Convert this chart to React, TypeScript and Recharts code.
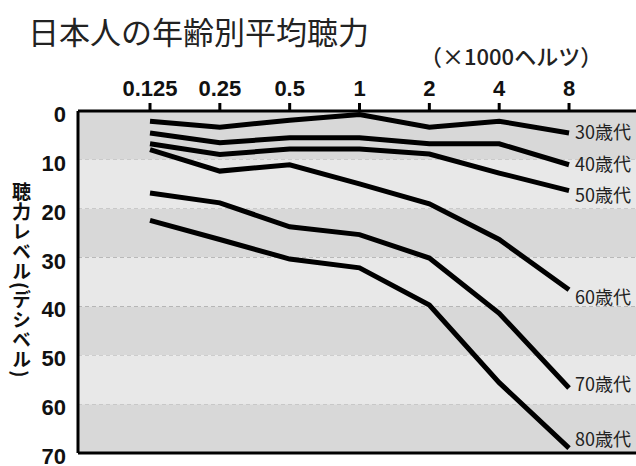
import React from 'react';
import { LineChart, Line, XAxis, YAxis, CartesianGrid, ReferenceArea, ReferenceLine } from 'recharts';

const freqLabels = ['0.125', '0.25', '0.5', '1', '2', '4', '8'];
const age30 = [2.1, 3.3, 1.9, 0.7, 3.3, 2.1, 4.5];
const age40 = [4.5, 6.5, 5.5, 5.5, 6.7, 6.7, 11.0];
const age50 = [6.7, 8.9, 7.8, 7.8, 8.8, 12.7, 16.3];
const age60 = [7.9, 12.3, 11.0, 14.9, 19.0, 26.3, 36.6];
const age70 = [16.8, 18.8, 23.7, 25.3, 30.1, 41.4, 56.7];
const age80 = [22.4, 26.3, 30.3, 32.1, 39.7, 55.6, 69.0];
const yTicks = [0, 10, 20, 30, 40, 50, 60, 70];
const seriesNames = ['30歳代', '40歳代', '50歳代', '60歳代', '70歳代', '80歳代'];

const data = freqLabels.map((f, i) => ({
  i,
  a30: age30[i],
  a40: age40[i],
  a50: age50[i],
  a60: age60[i],
  a70: age70[i],
  a80: age80[i],
}));

const series = [
  { key: 'a30', name: seriesNames[0], dy: -2 },
  { key: 'a40', name: seriesNames[1], dy: -2 },
  { key: 'a50', name: seriesNames[2], dy: 3 },
  { key: 'a60', name: seriesNames[3], dy: 6 },
  { key: 'a70', name: seriesNames[4], dy: -5 },
  { key: 'a80', name: seriesNames[5], dy: -10 },
];

const bands = yTicks.slice(0, -1).map((t, k) => ({ y1: t, y2: yTicks[k + 1], dark: k % 2 === 0 }));

const JP = '"Noto Sans CJK JP", "Noto Sans", sans-serif';
const NUM = '"Liberation Sans", Arial, sans-serif';

const XTick = (props: any) => {
  const { x, y, payload } = props;
  return (
    <text x={x} y={y - 5} textAnchor="middle" fontFamily={NUM} fontWeight="bold" fontSize={22} fill="#111">
      {freqLabels[payload.value]}
    </text>
  );
};

const YTick = (props: any) => {
  const { x, y, payload } = props;
  return (
    <text x={x - 10} y={y + 11} textAnchor="end" fontFamily={NUM} fontWeight="bold" fontSize={22} fill="#111">
      {payload.value}
    </text>
  );
};

const makeLabel = (name: string, dy: number) => (p: any) => {
  if (p.index !== freqLabels.length - 1) return <g />;
  return (
    <text x={p.x + 6} y={p.y + dy} dominantBaseline="central" fontFamily={JP} fontSize={18} fill="#222">
      {name}
    </text>
  );
};

export default function App() {
  return (
    <div style={{ position: 'absolute', left: 0, top: 0, width: 636, height: 466, background: '#fff', overflow: 'hidden' }}>
      <div style={{ position: 'absolute', left: 28, top: 12, fontFamily: JP, fontSize: 31, lineHeight: '38px', color: '#222', whiteSpace: 'nowrap' }}>
        日本人の年齢別平均聴力
      </div>
      <div style={{ position: 'absolute', left: 420, top: 40, fontFamily: JP, fontSize: 22, lineHeight: '30px', color: '#222', fontWeight: 500, whiteSpace: 'nowrap' }}>
        （×1000ヘルツ）
      </div>
      <div style={{ position: 'absolute', left: 9, top: 182, fontFamily: JP, fontSize: 19, lineHeight: '24px', letterSpacing: 1, fontWeight: 'bold', color: '#111', writingMode: 'vertical-rl', whiteSpace: 'nowrap' }}>
        聴力レベル(デシベル)
      </div>
      <LineChart width={636} height={466} data={data} margin={{ top: 71, right: 0, bottom: 13, left: 38 }}>
        {bands.map((b, k) => (
          <ReferenceArea key={k} y1={b.y1} y2={b.y2} fill={b.dark ? '#d8d8d8' : '#e8e8e8'} fillOpacity={1} stroke="none" ifOverflow="hidden" />
        ))}
        <CartesianGrid vertical={false} stroke="#333" strokeDasharray="4 3" strokeWidth={1} />
        <XAxis
          dataKey="i"
          type="number"
          orientation="top"
          domain={[-1.031, 6.959]}
          ticks={[0, 1, 2, 3, 4, 5, 6]}
          height={40}
          tickSize={8}
          tick={<XTick />}
          axisLine={{ stroke: '#000', strokeWidth: 3 }}
          tickLine={{ stroke: '#000', strokeWidth: 3 }}
          allowDataOverflow
        />
        <YAxis
          type="number"
          domain={[0, 70]}
          reversed
          ticks={yTicks}
          width={40}
          tickSize={0}
          tick={<YTick />}
          axisLine={{ stroke: '#000', strokeWidth: 3 }}
          tickLine={false}
          interval={0}
        />
        <ReferenceLine y={70} stroke="#000" strokeWidth={3} />
        {series.map((s) => (
          <Line
            key={s.key}
            dataKey={s.key}
            type="linear"
            stroke="#000"
            strokeWidth={5}
            strokeLinejoin="miter"
            strokeLinecap="butt"
            dot={false}
            activeDot={false}
            isAnimationActive={false}
            label={makeLabel(s.name, s.dy)}
          />
        ))}
      </LineChart>
    </div>
  );
}
